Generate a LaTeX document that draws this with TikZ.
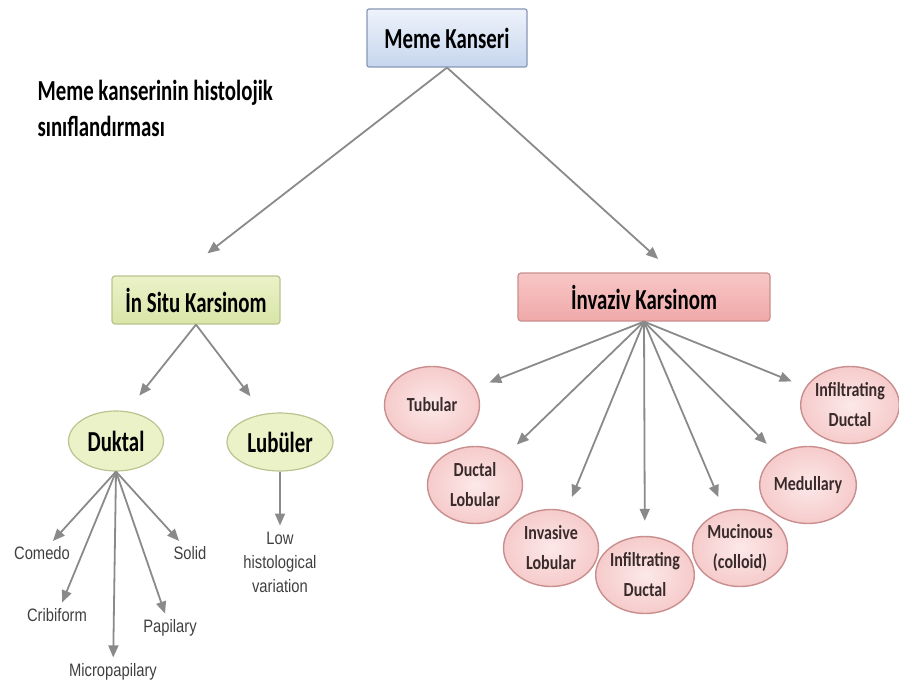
\documentclass[tikz,border=0pt]{standalone}
\usepackage{fontspec}
\setmainfont{Carlito}
\newfontfamily\headfont{Carlito}[FakeStretch=0.72]
\newfontfamily\leaffont{Carlito}[FakeStretch=0.8]
\newfontfamily\subfont{Liberation Sans}[FakeStretch=0.82]
\usetikzlibrary{arrows.meta}
\usetikzlibrary{shapes.geometric}

\definecolor{arrowgray}{HTML}{8A8A8A}
\definecolor{bluetop}{HTML}{EEF3FB}
\definecolor{bluebot}{HTML}{C6D6EE}
\definecolor{blueline}{HTML}{8797B4}
\definecolor{greentop}{HTML}{EBF2C8}
\definecolor{greenbot}{HTML}{D9E5A8}
\definecolor{greenline}{HTML}{B9C48E}
\definecolor{pinktop}{HTML}{F8C6C6}
\definecolor{pinkbot}{HTML}{F0A9A9}
\definecolor{pinkline}{HTML}{C98E8E}
\definecolor{pinkfill}{HTML}{F6CBCB}
\definecolor{leaftext}{HTML}{3A2B2B}

\begin{document}
\begin{tikzpicture}[x=1pt, y=-1pt,
	bigtext/.style={font=\headfont\bfseries\fontsize{29}{36}\selectfont},
	rootbox/.style={bigtext, draw=blueline, line width=1.2pt, rounded corners=2pt, top color=bluetop, bottom color=bluebot, minimum width=160pt, minimum height=58pt},
	insitubox/.style={bigtext, draw=greenline, line width=1.2pt, rounded corners=3pt, top color=greentop, bottom color=greenbot, minimum width=168pt, minimum height=48pt},
	invazivbox/.style={bigtext, draw=pinkline, line width=1.2pt, rounded corners=3pt, top color=pinktop, bottom color=pinkbot, minimum width=252pt, minimum height=48pt},
	greenoval/.style={bigtext, ellipse, draw=greenline, line width=1.2pt, fill=greentop, inner sep=0pt},
	pinkoval/.style={ellipse, draw=pinkline, line width=1.4pt, inner color=pinktop!40, outer color=pinkfill, minimum width=95pt, minimum height=77pt, inner sep=0pt, align=center, text=leaftext, font=\leaffont\bfseries\fontsize{20}{30}\selectfont},
	leaf/.style={inner sep=3pt, align=center, text=black!75, font=\subfont\fontsize{18}{24}\selectfont},
	arr/.style={draw=arrowgray, line width=1.8pt, -{Triangle[length=12pt,width=10pt]}}]
			\useasboundingbox (0,0) rectangle (899,693);

			\node[rootbox] (MK) at (447,38) {Meme Kanseri};
			\node[bigtext, anchor=west, align=left] (note) at (34,108) {Meme kanserinin histolojik\\sınıflandırması};

			\node[insitubox] (IS) at (196,300) {İn Situ Karsinom};
			\node[invazivbox] (IK) at (644,297) {İnvaziv Karsinom};

			\node[greenoval, minimum width=95pt, minimum height=60pt] (D) at (116,441) {Duktal};
			\node[greenoval, minimum width=106pt, minimum height=58pt] (L) at (280,442) {Lubüler};

			\node[leaf] (com) at (42,553) {Comedo};
			\node[leaf] (cri) at (57,615) {Cribiform};
			\node[leaf] (mic) at (113,672) {Micropapilary};
			\node[leaf] (pap) at (170,628) {Papilary};
			\node[leaf] (sol) at (190,553) {Solid};
			\node[leaf] (low) at (280,562) {Low\\histological\\variation};

			\node[pinkoval] (tub) at (432,405) {Tubular};
			\node[pinkoval] (dl) at (475,485) {Ductal\\Lobular};
			\node[pinkoval] (il) at (551,548) {Invasive\\Lobular};
			\node[pinkoval] (idm) at (645,575) {Infiltrating\\Ductal};
			\node[pinkoval] (muc) at (740,548) {Mucinous\\(colloid)};
			\node[pinkoval] (med) at (808,485) {Medullary};
			\node[pinkoval] (idr) at (850,405) {Infiltrating\\Ductal};

			% first level
			\path (MK.south) edge[arr, shorten >=36pt] ([xshift=-17pt]IS.north);
			\path (MK.south) edge[arr, shorten >=20pt] ([xshift=29pt]IK.north);

			% in situ
			\path (IS.south) edge[arr, shorten >=20pt] (D.70);
			\path (IS.south) edge[arr, shorten >=22pt] (L.120);
			\path (D.south) edge[arr, shorten >=3pt] (com);
			\path (D.south) edge[arr, shorten >=3pt] (cri);
			\path (D.south) edge[arr, shorten >=3pt] (mic);
			\path (D.south) edge[arr, shorten >=3pt] (pap);
			\path (D.south) edge[arr, shorten >=3pt] (sol);
			\path (L.south) edge[arr, shorten >=3pt] (low);

			% invaziv
			\path (IK.south) edge[arr, shorten >=15pt] (tub);
			\path (IK.south) edge[arr, shorten >=15pt] (dl);
			\path (IK.south) edge[arr, shorten >=15pt] (il);
			\path (IK.south) edge[arr, shorten >=15pt] (idm);
			\path (IK.south) edge[arr, shorten >=15pt] (muc);
			\path (IK.south) edge[arr, shorten >=15pt] (med);
			\path (IK.south) edge[arr, shorten >=15pt] (idr);
\end{tikzpicture}
\end{document}
